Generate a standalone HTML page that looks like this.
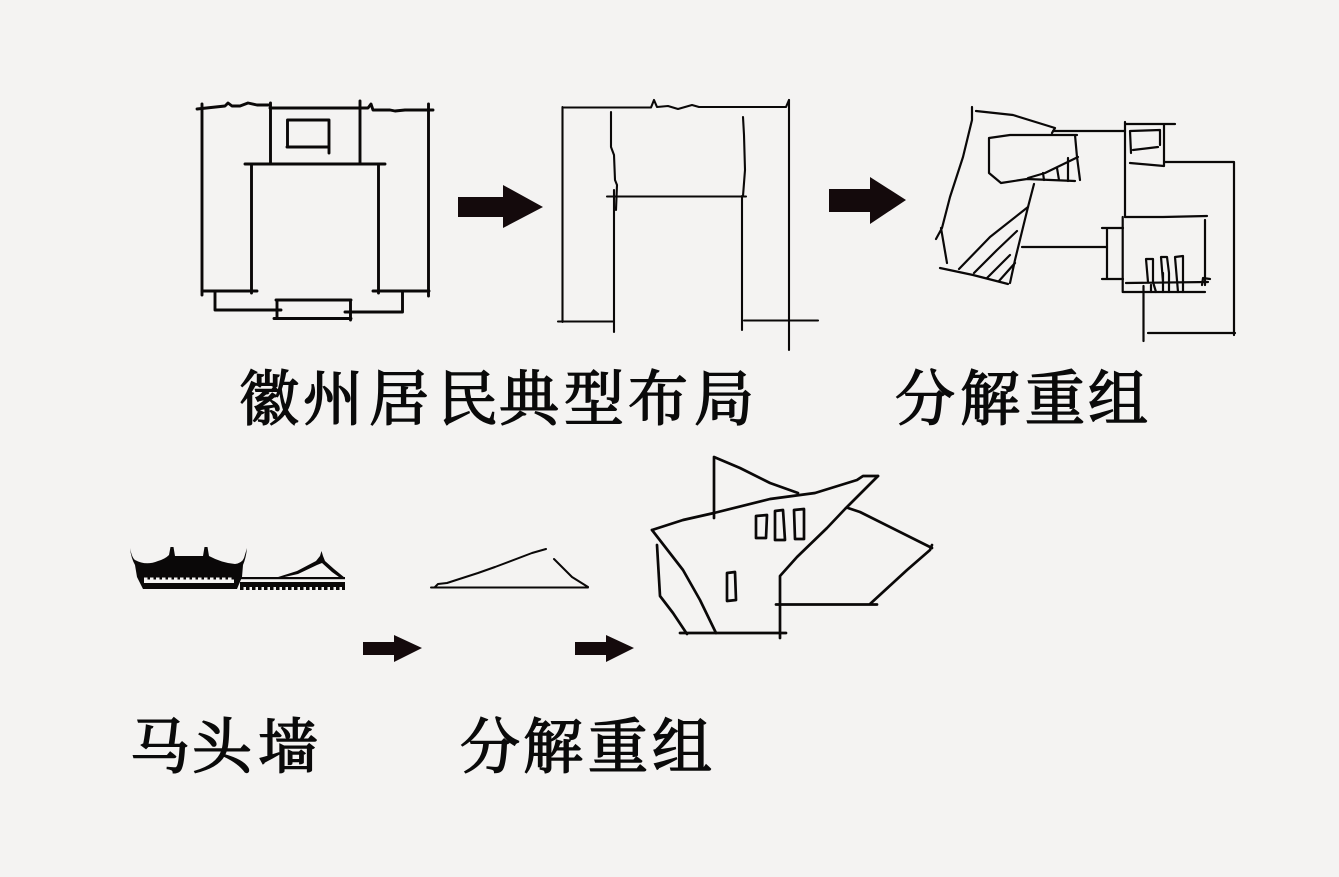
<!DOCTYPE html>
<html lang="zh"><head><meta charset="utf-8"><title>徽州居民典型布局</title>
<style>
html,body{margin:0;padding:0;background:#f4f3f2;width:1339px;height:877px;overflow:hidden}
svg{display:block}
.s{fill:none;stroke:#0a0808;stroke-linecap:round;stroke-linejoin:round}
.a{fill:#140a0c}
text{font-family:"Liberation Serif","Noto Serif CJK SC",serif;font-weight:400;font-size:60px;fill:#0a0a0a;stroke:#0a0a0a;stroke-width:1.500px}
.soft{filter:blur(.35px)}
</style></head><body>
<svg width="1339" height="877" viewBox="0 0 1339 877" xmlns="http://www.w3.org/2000/svg">
<rect width="1339" height="877" fill="#f4f3f2"/>

<g class="soft">
<!-- Drawing 1 -->
<g class="s" stroke-width="2.900">
<path d="M197 109L225 106L228 103L232 106L240 106L248 103L257 105L270 105"/>
<path d="M270 108H360M360 108L368 108L371 104L373 110L390 110L395 111L405 110L433 110"/>
<path d="M202 104V295M428.500 104V296M270.500 103V163M360 101V163"/>
<path d="M288 120H329M287.500 120V146M287 147H329M329 120V153"/>
<path d="M245 164H385M251.500 164V293M378.500 165V293"/>
<path d="M202 291H257M373 291H429M215 292V310H281M402.500 292V312H345"/>
<path d="M276 300H351M274 318.500H351M277 300V318M350.500 300V320"/>
</g>
<polygon class="a" points="458,197 503,197 503,185 543,207 503,228 503,217 458,217"/>

<!-- Drawing 2 -->
<g class="s" stroke-width="2.100">
<path d="M564 107.500H651L654 100L657 107L668 106L678 109L692 105L699 107H786L789 100"/>
<path d="M789 100V350M562.500 107V322"/>
<path d="M611 112L611 147L614 155L615 180L617 185L616 210M614 190V332"/>
<path d="M743 117L744 135L745 170L743 196M742 196V330"/>
<path d="M607 196.500H746M558 321.500H613M744 320.500H818"/>
</g>
<polygon class="a" points="829,189 870,189 870,177 906,200 870,224 870,212 829,212"/>

<!-- Drawing 3 -->
<g class="s" stroke-width="2.200">
<path d="M972 107L972 120L963 157L950 197L942 228L936 239M941 228L947 263"/>
<path d="M976 111L1013 115L1055 128L1052 133M1053 131H1125"/>
<path d="M989 138L1010 135H1077M1075 135L1077 157L1080 180M989 138V173L1001 183L1027 179L1075 181"/>
<path d="M1028 178L1045 173L1078 157M1043 173L1044 180M1057 168L1059 180M1068 158V181"/>
<path d="M1034 184L1028 207L1015 260L1010 283M940 268L973 275L1008 284"/>
<path d="M959 269L990 237L1028 207M974 273L997 250L1017 231M987 278L1010 255M999 281L1015 263"/>
<path d="M1022 247H1107"/>
<path d="M1125 122V217M1125 124H1175M1164 124V166M1130 163L1164 166M1164 162H1234M1234 162V335M1148 333H1235"/>
<path d="M1130 131L1160 130V145M1133 150L1158 147M1130 131L1131 153"/>
<path d="M1122.700 217V292M1125 217L1163 217L1207 216M1205 220V285M1202 285L1203 278L1210 279"/>
<path d="M1126 283L1208 282M1123 292H1205M1143.500 286V341"/>
<path d="M1102 228H1123M1102 279H1123M1107 228V279"/>
<path d="M1148 282L1146 259H1153L1153 282L1156 292M1151 285V292"/>
<path d="M1163 282L1161 257L1167 257L1169 273V292M1163 273V292"/>
<path d="M1178 292L1175 257L1183 256V292"/>
</g>

<!-- Horse-head wall -->
<path fill="#0a0808" d="M130 548Q132 558 135 560Q146 566 158 561Q165 559 169 555L170.500 547H173.500L175 556H203L204.500 547H207.500L209 556Q222 563 235 564Q242 563 244 558L247 548Q246 558 243 565L242 577L237 589H143L137 577L135 565Q131 558 130 548Z"/>
<rect x="144" y="579.500" width="90" height="3.500" fill="#f4f3f2"/>
<path d="M144 578.500H234" stroke="#f4f3f2" stroke-width="2" stroke-dasharray="3.500 2.500" fill="none"/>
<rect x="240" y="577" width="105" height="2.200" fill="#0a0808"/>
<rect x="240" y="582" width="105" height="5" fill="#0a0808"/>
<path d="M240 588.500H345" stroke="#0a0808" stroke-width="3" stroke-dasharray="3.500 2.500" fill="none"/>
<polygon fill="#0a0808" points="275,578 297,571 316,561 320,556 321.500,551 323,556 325,561 334,569 345,578 341,578.500 332,572 322,563 317,565 298,574 280,578"/>

<!-- Triangle -->
<g class="s" stroke-width="2">
<path d="M431 587.500H588M435 587L438 584L447 583L478 573L495 567L532 553L546 549M554 559L572 577L588 587"/>
</g>
<polygon class="a" points="363,642 394,642 394,635 422,648 394,662 394,655 363,655"/>
<polygon class="a" points="575,642 606,642 606,635 634,648 606,662 606,655 575,655"/>

<!-- Building -->
<g class="s" stroke-width="2.700">
<path d="M714 518V457L740 468L770 483L798 493"/>
<path d="M652 530L683 520L714 513L770 499L815 493L857 480L863 476H878"/>
<path d="M878 476L845 509L827 528L797 557L780 576V638"/>
<path d="M848 508L860 512L932 548M932 545L930 550L907 570L870 604"/>
<path d="M776 604.500H877M680 633H786"/>
<path d="M652 530L683 570L700 600L716 633M657 545L660 596L673 613L687 634"/>
<path d="M756 516L767 515L766 538H756ZM775 511L783 510L785 540H775ZM794 510L804 509V539H795Z"/>
<path d="M727 573L735 572L736 600L727 601Z"/>
</g>
</g>

<!-- Labels -->
<text x="239 303 369 438 499 564 628 694" y="420">徽州居民典型布局</text>
<text x="895 960 1025 1088" y="420">分解重组</text>
<text x="130 192 258" y="768">马头墙</text>
<text x="460 523 588 652" y="768">分解重组</text>
</svg>
</body></html>
